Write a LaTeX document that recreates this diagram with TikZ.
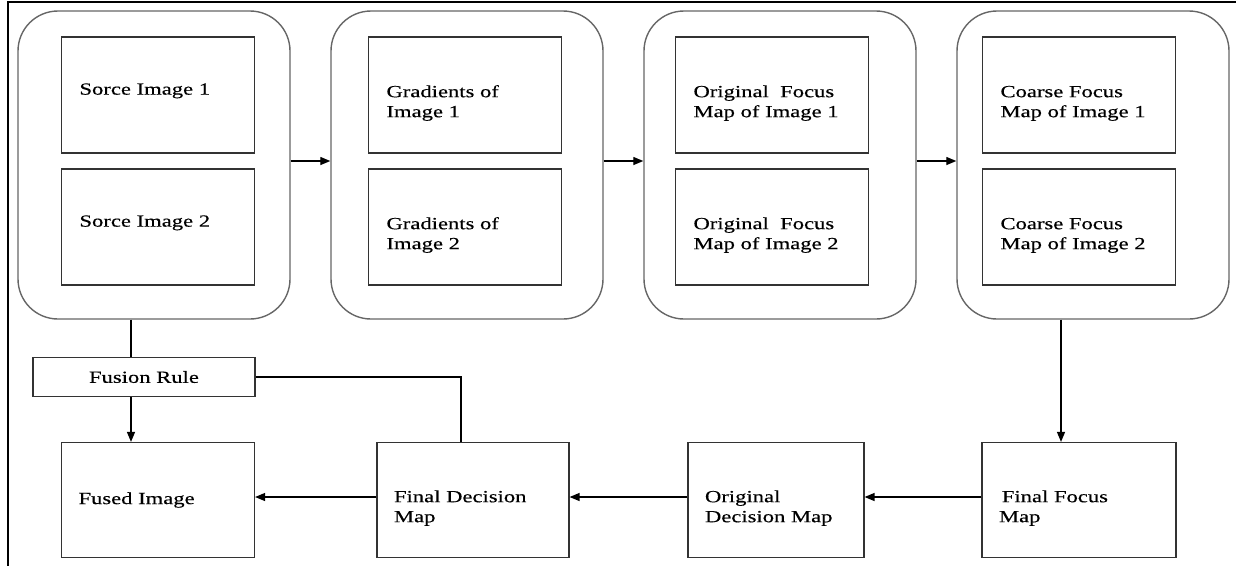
\documentclass[tikz,border=0pt]{standalone}
\usepackage{fontspec}
\setmainfont[FakeStretch=1.33, FakeBold=0.4]{Liberation Serif}
\usepackage{tikz}
\usetikzlibrary{arrows.meta}
\usetikzlibrary{positioning}

\begin{document}
\begin{tikzpicture}[->, >={Triangle[length=10pt, width=8pt]}, line width=1.3pt, x=1pt, y=-1pt, node distance=307pt,
    font=\fontsize{17pt}{20pt}\selectfont]
    \tikzstyle{stage}=[draw=black!60, line width=1.4pt, rounded corners=40pt, minimum width=272pt, minimum height=308pt]
    \tikzstyle{imgbox}=[draw=black!80, line width=1.2pt, minimum height=116pt, text width=157pt, inner xsep=18pt, align=left]
    \tikzstyle{mapbox}=[draw=black!80, line width=1.2pt, minimum height=115pt, inner xsep=17pt, align=left]
    \tikzstyle{rulebox}=[draw=black!80, line width=1.2pt, minimum width=222pt, minimum height=39pt]
    \tikzstyle{twoline}=[execute at begin node={\rule{0pt}{28pt}}]
    \tikzstyle{oneline}=[execute at begin node={\rule[-12pt]{0pt}{12pt}}]
    \useasboundingbox (0,0) rectangle (1236,566);
    \draw[-, line width=2.5pt] (1236,2) -- (8,2) -- (8,566);
    % stages
    \node[stage]    (c1) at (154,165)                        {};
    \node[stage]    (c2)[right of=c1, node distance=313pt]   {};
    \node[stage]    (c3)[right of=c2, node distance=313pt]   {};
    \node[stage]    (c4)[right of=c3, node distance=313pt]   {};
    % image boxes
    \node[imgbox, oneline]   (src1) at (158,95)    {Sorce Image 1};
    \node[imgbox, twoline]   (grad1)[right of=src1]  {Gradients of\\Image 1};
    \node[imgbox, twoline]   (ofm1)[right of=grad1]  {Original~ Focus\\Map of Image 1};
    \node[imgbox, twoline]   (cfm1)[right of=ofm1]   {Coarse Focus\\Map of Image 1};
    \node[imgbox, oneline]   (src2)[below of=src1, node distance=132pt]   {Sorce Image 2};
    \node[imgbox, twoline]   (grad2)[below of=grad1, node distance=132pt] {Gradients of\\Image 2};
    \node[imgbox, twoline]   (ofm2)[below of=ofm1, node distance=132pt]   {Original~ Focus\\Map of Image 2};
    \node[imgbox, twoline]   (cfm2)[below of=cfm1, node distance=132pt]   {Coarse Focus\\Map of Image 2};
    % bottom row
    \node[mapbox, text width=159pt]            (fused)[below of=src2, node distance=273pt]  {Fused Image};
    \node[mapbox, twoline, text width=160pt]   (ffm)[below of=cfm2, node distance=273pt]    {\,Final Focus\\Map};
    \node[mapbox, twoline, text width=142pt]   (odm)[left of=ffm, node distance=303pt]      {Original\\Decision Map};
    \node[mapbox, twoline, text width=158pt]   (fdm)[right of=fused, node distance=315pt]   {Final Decision\\Map};
    \node[rulebox]  (fuse) at (144,377)   {Fusion Rule};
    \path
    ([yshift=4pt]c1.east)
      edge  ([yshift=4pt]c2.west)
    ([yshift=4pt]c2.east)
      edge  ([yshift=4pt]c3.west)
    ([yshift=4pt]c3.east)
      edge  ([yshift=4pt]c4.west)
    ([yshift=3pt]ffm.west)
      edge  ([yshift=3pt]odm.east)
    ([yshift=3pt]odm.west)
      edge  ([yshift=3pt]fdm.east)
    ([yshift=3pt]fdm.west)
      edge  ([yshift=3pt]fused.east);
    \draw[-] ([xshift=-13pt]fuse.north |- c1.south) -- ([xshift=-13pt]fuse.north);
    \draw ([xshift=-13pt]fuse.south) -- ([xshift=-13pt]fuse.south |- fused.north);
    \draw[-] (fuse.east) -| ([xshift=-12pt]fdm.north);
    \draw ([xshift=-18pt]ffm.north |- c4.south) -- ([xshift=-18pt]ffm.north);
\end{tikzpicture}
\end{document}
